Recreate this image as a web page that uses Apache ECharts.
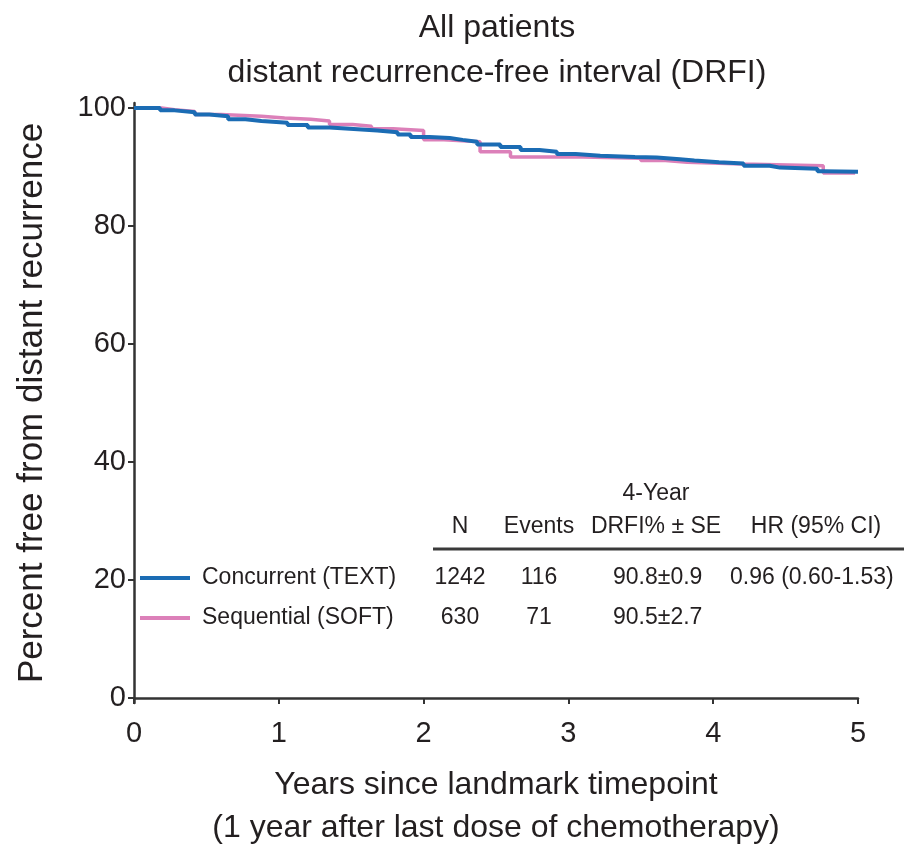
<!DOCTYPE html>
<html>
<head>
<meta charset="utf-8">
<script src="https://cdn.jsdelivr.net/npm/echarts@6/dist/echarts.min.js"></script>
<style>
  html, body { margin: 0; padding: 0; background: #fff; }
  #chart { width: 904px; height: 848px; }
</style>
</head>
<body>
<div id="chart"></div>
<script>
// Kaplan-Meier step estimates: time in years, percent free from distant recurrence
const concurrentTimes = [0, 0.18, 0.28, 0.42, 0.52, 0.65, 0.77, 0.88, 1.06, 1.20, 1.35, 1.49, 1.68, 1.82, 1.91, 2.04, 2.18, 2.27, 2.37, 2.53, 2.67, 2.80, 2.92, 3.05, 3.22, 3.46, 3.61, 3.77, 3.87, 4.04, 4.21, 4.39, 4.46, 4.72, 4.76, 5.0];
const concurrentSurv  = [100, 99.6, 99.3, 98.9, 98.6, 98.1, 97.8, 97.5, 97.1, 96.7, 96.5, 96.2, 95.9, 95.5, 95.1, 94.9, 94.6, 94.3, 93.8, 93.4, 92.9, 92.6, 92.2, 91.9, 91.7, 91.6, 91.3, 91.1, 90.8, 90.6, 90.2, 89.9, 89.7, 89.3, 89.2, 89.2];

const sequentialTimes = [0, 0.19, 0.28, 0.42, 0.60, 0.88, 1.04, 1.22, 1.35, 1.51, 1.64, 1.79, 2.00, 2.14, 2.39, 2.60, 3.10, 3.50, 3.67, 3.82, 4.20, 4.76, 4.98];
const sequentialSurv  = [100, 99.7, 99.4, 98.9, 98.6, 98.3, 98.1, 97.8, 97.2, 96.9, 96.5, 96.2, 94.6, 94.3, 92.6, 91.7, 91.5, 91.1, 90.8, 90.5, 90.2, 89.0, 89.0];

// Axis ticks
const yTicks = [0, 20, 40, 60, 80, 100];
const xTicks = [0, 1, 2, 3, 4, 5];

// Titles
const titleLines = ['All patients', 'distant recurrence-free interval (DRFI)'];

// Summary table
const groupNames  = ['Concurrent (TEXT)', 'Sequential (SOFT)'];
const groupN      = ['1242', '630'];
const groupEvents = ['116', '71'];
const groupDrfi   = ['90.8\u00b10.9', '90.5\u00b12.7'];
const groupHr     = ['0.96 (0.60-1.53)', ''];
const tableHeaders = ['N', 'Events', 'DRFI% \u00b1 SE', 'HR (95% CI)'];
const tableSuperHeader = '4-Year';

const BLUE = '#1b6cb4';
const PINK = '#dc80b9';
const INK = '#231f20';
const FONT = "'Liberation Sans', Arial, sans-serif";

function pairs(ts, vs) { return ts.map((t, i) => [t, vs[i]]); }

const chart = echarts.init(document.getElementById('chart'), null, { renderer: 'canvas' });

const graphics = [];
const txt = (x, y, s, size, align) => ({
  type: 'text', x: x, y: y,
  style: { text: s, fill: INK, font: size + 'px ' + FONT, textAlign: align || 'center', textVerticalAlign: 'middle' }
});

// chart title, two lines
graphics.push(txt(497, 28, titleLines[0], 32));
graphics.push(txt(497, 73, titleLines[1], 32));

// table layout
const colN = 460, colEv = 539, colDrfi = 613, colDrfiHead = 656, colHr = 730, colHrHead = 816;
const rowY = [578, 618];
const lineColors = [BLUE, PINK];
graphics.push(txt(colDrfiHead, 494, tableSuperHeader, 23));
graphics.push(txt(colN, 527, tableHeaders[0], 23));
graphics.push(txt(colEv, 527, tableHeaders[1], 23));
graphics.push(txt(colDrfiHead, 527, tableHeaders[2], 23));
graphics.push(txt(colHrHead, 527, tableHeaders[3], 23));
graphics.push({ type: 'line', shape: { x1: 433, y1: 549, x2: 904, y2: 549 }, style: { stroke: '#3a3a3a', lineWidth: 3 } });
groupNames.forEach((g, i) => {
  const y = rowY[i];
  graphics.push({ type: 'line', shape: { x1: 140, y1: y, x2: 190, y2: y }, style: { stroke: lineColors[i], lineWidth: 4 } });
  graphics.push(txt(202, y, g, 23, 'left'));
  graphics.push(txt(colN, y, groupN[i], 23));
  graphics.push(txt(colEv, y, groupEvents[i], 23));
  graphics.push(txt(colDrfi, y, groupDrfi[i], 23, 'left'));
  if (groupHr[i]) graphics.push(txt(colHr, y, groupHr[i], 23, 'left'));
});

chart.setOption({
  animation: false,
  backgroundColor: '#fff',
  textStyle: { fontFamily: FONT },
  grid: { left: 134, right: 46, top: 103, bottom: 145, containLabel: false, outerBoundsMode: 'none' },
  xAxis: {
    type: 'value',
    min: 0, max: 5, interval: 1,
    splitLine: { show: false },
    axisLine: { lineStyle: { color: '#333', width: 2.5 } },
    axisTick: { length: 6, lineStyle: { color: '#333', width: 2 } },
    axisLabel: { fontSize: 29, color: INK, margin: 16, fontFamily: FONT },
    name: 'Years since landmark timepoint\n(1 year after last dose of chemotherapy)',
    nameLocation: 'middle',
    nameGap: 61,
    nameTextStyle: { fontSize: 32, color: INK, lineHeight: 43, fontFamily: FONT, verticalAlign: 'top' }
  },
  yAxis: {
    type: 'value',
    min: -0.85, max: 100.85,
    splitLine: { show: false },
    axisLine: { show: true, lineStyle: { color: '#333', width: 2.5 } },
    axisTick: { show: true, length: 6, customValues: yTicks, lineStyle: { color: '#333', width: 2 } },
    axisLabel: { fontSize: 29, color: INK, margin: 8, customValues: yTicks, fontFamily: FONT },
    name: 'Percent free from distant recurrence',
    nameLocation: 'middle',
    nameGap: 84,
    nameTextStyle: { fontSize: 35, color: INK, fontFamily: FONT }
  },
  series: [
    {
      name: 'Sequential (SOFT)', type: 'line', step: 'end', showSymbol: false,
      data: pairs(sequentialTimes, sequentialSurv),
      lineStyle: { color: PINK, width: 3.5 }, z: 2
    },
    {
      name: 'Concurrent (TEXT)', type: 'line', step: 'end', showSymbol: false,
      data: pairs(concurrentTimes, concurrentSurv),
      lineStyle: { color: BLUE, width: 4 }, z: 3
    }
  ],
  graphic: graphics
});
</script>
</body>
</html>
